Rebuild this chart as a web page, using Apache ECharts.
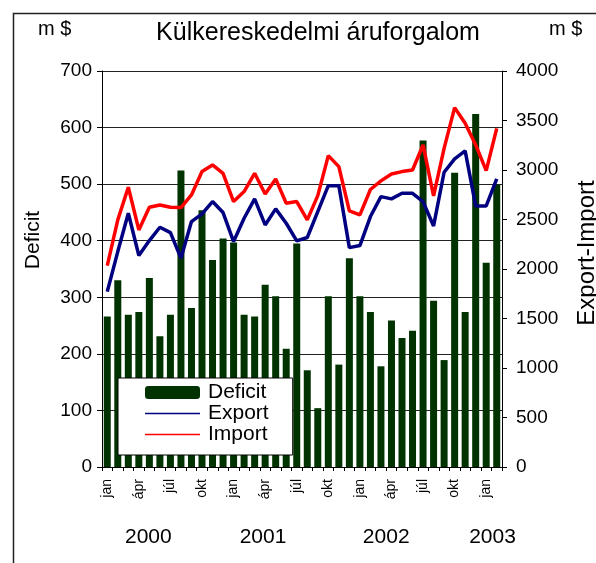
<!DOCTYPE html>
<html><head><meta charset="utf-8">
<script src="https://cdn.jsdelivr.net/npm/echarts@6/dist/echarts.min.js"></script>
<style>html,body{margin:0;padding:0;background:#fff}#c{width:596px;height:563px}</style>
</head><body><div id="c"></div>
<script>
const monthNames = ['jan','feb','márc','ápr','máj','jún','júl','aug','szept','okt','nov','dec'];
const categories = [];
for (let y = 2000; y <= 2003; y++) for (let m = 0; m < 12; m++) if (categories.length < 38) categories.push(y + ' ' + monthNames[m]);
const deficit = [266,330,269,274,334,231,269,524,281,454,366,404,397,269,266,322,302,209,395,171,104,302,181,369,302,274,178,259,228,241,577,294,189,520,274,624,361,499];
const exportVals = [1772,2176,2563,2136,2287,2422,2368,2109,2479,2557,2681,2570,2277,2513,2708,2445,2607,2462,2284,2318,2580,2842,2842,2216,2237,2530,2731,2708,2765,2765,2681,2435,2977,3112,3193,2637,2637,2910];
const importVals = [2035,2496,2826,2395,2624,2647,2624,2620,2748,2984,3051,2967,2681,2782,2967,2758,2910,2664,2681,2496,2741,3145,3034,2587,2546,2803,2890,2960,2984,3000,3253,2738,3219,3630,3472,3253,2994,3421];
const yearLabels = ['2000','2001','2002','2003'];
const yearPos = [4.4, 15.3, 27.0, 37.1];

const FONT = 'Liberation Sans, Arial, sans-serif';
const LINE_ICON = 'path://M0,0H40V1H0Z';
const chart = echarts.init(document.getElementById('c'), null, {renderer: 'canvas'});
chart.setOption({
  animation: false,
  backgroundColor: '#fff',
  textStyle: {fontFamily: FONT, color: '#000'},
  grid: {left: 102, right: 94, top: 71, bottom: 96, containLabel: false},
  title: {text: 'Külkereskedelmi áruforgalom', left: 313, top: 16, textAlign: 'center',
    textStyle: {fontFamily: FONT, fontSize: 25, fontWeight: 'normal', color: '#000'}},
  legend: {
    orient: 'vertical', left: 118, top: 378,
    data: [{name: 'Deficit'}, {name: 'Export', icon: LINE_ICON}, {name: 'Import', icon: LINE_ICON}],
    itemWidth: 55, itemHeight: 13, itemGap: 0, symbolKeepAspect: true,
    lineStyle: {width: 4},
    padding: [4, 24, 10, 27],
    backgroundColor: '#fff', borderColor: '#000', borderWidth: 1,
    textStyle: {fontFamily: FONT, fontSize: 21, color: '#000', padding: [0, 0, 0, 3]}
  },
  xAxis: [{
    type: 'category', data: categories, boundaryGap: true,
    axisLine: {show: true, lineStyle: {color: '#000', width: 1}},
    axisTick: {show: true, interval: 0, length: 4, lineStyle: {color: '#000'}},
    axisLabel: {interval: 2, rotate: 90, fontSize: 14, color: '#000', margin: 12, fontFamily: FONT,
      formatter: v => v.split(' ')[1]},
    splitLine: {show: false}
  }, {
    type: 'value', min: 0, max: 38, position: 'bottom',
    axisLine: {show: false}, axisTick: {show: false}, splitLine: {show: false},
    axisLabel: {customValues: yearPos, margin: 60, fontSize: 21, color: '#000', fontFamily: FONT,
      formatter: v => yearLabels[yearPos.indexOf(v)] || ''}
  }],
  yAxis: [{
    type: 'value', min: 0, max: 700, interval: 100, position: 'left',
    axisLine: {show: true, lineStyle: {color: '#000', width: 1}},
    axisTick: {show: true, length: 5, lineStyle: {color: '#000'}},
    axisLabel: {fontSize: 19, color: '#000', margin: 10, fontFamily: FONT},
    splitLine: {show: true, lineStyle: {color: '#222', width: 1}}
  }, {
    type: 'value', min: 0, max: 4000, interval: 500, position: 'right',
    axisLine: {show: true, lineStyle: {color: '#000', width: 1}},
    axisTick: {show: true, length: 5, lineStyle: {color: '#000'}},
    axisLabel: {fontSize: 19, color: '#000', margin: 14, fontFamily: FONT, formatter: v => String(v)},
    splitLine: {show: false}
  }],
  graphic: [
    {type: 'rect', left: 11, top: 11, z: -1, silent: true, shape: {width: 700, height: 700},
      style: {fill: 'none', stroke: '#222', lineWidth: 1.5}},
    {type: 'text', left: 38, top: 19, style: {text: 'm $', font: '20px ' + FONT, fill: '#000'}},
    {type: 'text', left: 549, top: 19, style: {text: 'm $', font: '20px ' + FONT, fill: '#000'}},
    {type: 'text', x: 33, y: 240, rotation: Math.PI / 2, style: {text: 'Deficit', font: '21px ' + FONT, fill: '#000', align: 'center', verticalAlign: 'middle'}},
    {type: 'text', x: 587, y: 253, rotation: Math.PI / 2, style: {text: 'Export-Import', font: '24px ' + FONT, fill: '#000', align: 'center', verticalAlign: 'middle'}}
  ],
  series: [
    {name: 'Deficit', type: 'bar', xAxisIndex: 0, yAxisIndex: 0, data: deficit, barWidth: 7,
      itemStyle: {color: '#003300'}, z: 2},
    {name: 'Export', type: 'line', xAxisIndex: 0, yAxisIndex: 1, data: exportVals, symbol: 'none',
      lineStyle: {color: '#000080', width: 3.5}, itemStyle: {color: '#000080'}, z: 3},
    {name: 'Import', type: 'line', xAxisIndex: 0, yAxisIndex: 1, data: importVals, symbol: 'none',
      lineStyle: {color: '#ff0000', width: 3.5}, itemStyle: {color: '#ff0000'}, z: 3}
  ]
});
</script></body></html>
